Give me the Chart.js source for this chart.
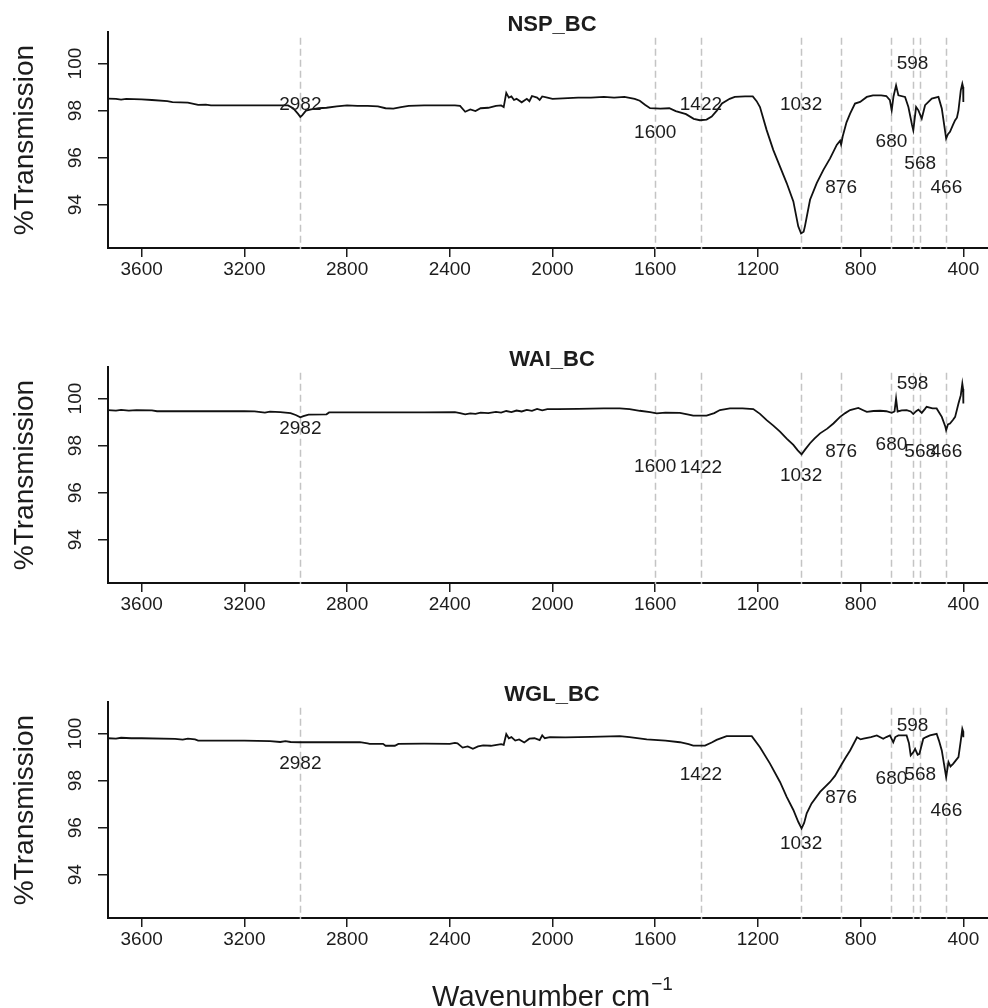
<!DOCTYPE html>
<html>
<head>
<meta charset="utf-8">
<script src="https://cdn.jsdelivr.net/npm/chart.js@4.4.0/dist/chart.umd.min.js"></script>
<style>
  body { margin: 0; background: #fff; width: 988px; height: 1008px; overflow: hidden; position: relative; }
  canvas { position: absolute; left: 0; }
</style>
</head>
<body>
<canvas id="c1" width="988" height="335" style="top:0"></canvas>
<canvas id="c2" width="988" height="335" style="top:335px"></canvas>
<canvas id="c3" width="988" height="338" style="top:670px"></canvas>
<script>
// peak positions (cm-1) and axis ticks
const peakWn = [2982, 1600, 1422, 1032, 876, 680, 598, 568, 466];
const xTicks = [3600, 3200, 2800, 2400, 2000, 1600, 1200, 800, 400];
const yTicks = [94, 96, 98, 100];

// NSP_BC
const nspWn = [3731, 3700, 3680, 3660, 3600, 3560, 3500, 3480, 3420, 3380, 3350, 3330, 3200, 3100, 3030, 3010, 2990, 2982, 2975, 2960,
  2940, 2910, 2880, 2840, 2800, 2760, 2720, 2680, 2650, 2620, 2590, 2560, 2500, 2420, 2380, 2360, 2340, 2320, 2300, 2280,
  2250, 2220, 2200, 2190, 2180, 2170, 2160, 2150, 2140, 2120, 2100, 2090, 2080, 2060, 2050, 2040, 2020, 2000, 1960, 1900,
  1850, 1800, 1760, 1720, 1680, 1660, 1640, 1620, 1580, 1545, 1520, 1480, 1450, 1426, 1400, 1380, 1360, 1340, 1310, 1290,
  1250, 1220, 1205, 1192, 1166, 1140, 1114, 1088, 1062, 1043, 1032, 1022, 1017, 997, 971, 945, 919, 893, 880, 876,
  870, 855, 841, 822, 802, 776, 752, 720, 700, 686, 679, 672, 662, 653, 627, 614, 600, 595, 584, 575,
  562, 549, 523, 497, 484, 467, 460, 452, 440, 432, 425, 419, 410, 404, 401, 400];
const nspT = [98.51, 98.50, 98.47, 98.50, 98.48, 98.45, 98.40, 98.36, 98.34, 98.24, 98.25, 98.22, 98.22, 98.22, 98.22, 98.10, 97.85, 97.73, 97.80, 98.00,
  98.05, 98.10, 98.12, 98.18, 98.22, 98.20, 98.20, 98.18, 98.10, 98.08, 98.15, 98.20, 98.22, 98.22, 98.22, 98.20, 97.95, 98.05, 97.98, 98.10,
  98.12, 98.20, 98.22, 98.15, 98.75, 98.55, 98.60, 98.45, 98.50, 98.35, 98.50, 98.40, 98.62, 98.55, 98.45, 98.60, 98.55, 98.50, 98.52, 98.55,
  98.55, 98.58, 98.55, 98.58, 98.50, 98.42, 98.25, 98.10, 98.08, 98.10, 97.98, 97.85, 97.65, 97.59, 97.62, 97.75, 98.00, 98.30, 98.50, 98.58,
  98.60, 98.60, 98.40, 98.15, 97.17, 96.32, 95.62, 94.92, 94.14, 93.08, 92.78, 92.85, 93.08, 94.21, 94.92, 95.48, 95.97, 96.54, 96.72, 96.55,
  96.90, 97.50, 97.87, 98.30, 98.37, 98.58, 98.65, 98.65, 98.62, 98.44, 98.01, 98.60, 99.07, 98.65, 98.58, 98.15, 97.40, 97.17, 98.15, 98.01,
  97.66, 98.23, 98.51, 98.58, 98.09, 96.82, 97.00, 97.10, 97.40, 97.59, 97.70, 98.01, 98.86, 99.14, 99.00, 98.37];
const nspLabelY = [98.25, 97.06, 98.25, 98.25, 94.71, 96.68, 100.01, 95.72, 94.71];

// WAI_BC
const waiWn = [3731, 3700, 3680, 3650, 3620, 3560, 3540, 3400, 3200, 3160, 3120, 3100, 3060, 3020, 3000, 2982, 2970, 2950, 2880, 2870,
  2700, 2500, 2380, 2360, 2340, 2320, 2300, 2280, 2250, 2220, 2200, 2180, 2160, 2140, 2120, 2100, 2080, 2060, 2040, 2020,
  1980, 1900, 1800, 1738, 1700, 1660, 1620, 1594, 1560, 1504, 1470, 1452, 1400, 1370, 1348, 1309, 1260, 1218, 1192, 1166,
  1140, 1114, 1088, 1062, 1045, 1030, 1015, 997, 980, 958, 930, 906, 880, 860, 841, 809, 790, 776, 750, 724,
  700, 679, 668, 662, 656, 640, 621, 605, 595, 585, 575, 562, 550, 543, 520, 504, 484, 470, 467, 460,
  452, 440, 432, 419, 410, 404, 401, 400];
const waiT = [99.51, 99.49, 99.52, 99.49, 99.51, 99.50, 99.46, 99.46, 99.46, 99.45, 99.40, 99.44, 99.42, 99.38, 99.30, 99.20, 99.25, 99.32, 99.33, 99.41,
  99.41, 99.41, 99.42, 99.38, 99.33, 99.37, 99.35, 99.40, 99.38, 99.43, 99.40, 99.47, 99.42, 99.49, 99.45, 99.52, 99.48, 99.56, 99.50, 99.55,
  99.55, 99.56, 99.58, 99.58, 99.55, 99.48, 99.42, 99.37, 99.40, 99.39, 99.32, 99.27, 99.27, 99.38, 99.51, 99.58, 99.58, 99.55, 99.35, 99.08,
  98.85, 98.59, 98.30, 98.03, 97.80, 97.63, 97.85, 98.10, 98.30, 98.52, 98.72, 98.94, 99.22, 99.38, 99.51, 99.60, 99.50, 99.43, 99.47, 99.48,
  99.46, 99.39, 99.45, 100.00, 99.45, 99.50, 99.51, 99.45, 99.34, 99.45, 99.53, 99.39, 99.55, 99.65, 99.58, 99.58, 99.22, 98.80, 98.66, 98.90,
  98.94, 99.10, 99.22, 99.79, 100.14, 100.63, 100.40, 99.79];
const waiLabelY = [98.70, 97.11, 97.04, 96.73, 97.72, 98.03, 100.63, 97.72, 97.72];

// WGL_BC
const wglWn = [3731, 3700, 3680, 3640, 3600, 3470, 3440, 3420, 3392, 3380, 3300, 3200, 3100, 3060, 3040, 3020, 2984, 2900, 2750, 2720,
  2712, 2660, 2650, 2614, 2600, 2500, 2400, 2380, 2370, 2350, 2330, 2310, 2290, 2270, 2240, 2200, 2190, 2180, 2170, 2160,
  2145, 2130, 2110, 2090, 2070, 2050, 2040, 2030, 2010, 1950, 1850, 1738, 1700, 1633, 1560, 1504, 1470, 1452, 1406, 1380,
  1361, 1322, 1224, 1192, 1153, 1114, 1088, 1062, 1043, 1030, 1020, 1010, 991, 958, 919, 900, 880, 860, 841, 814,
  800, 789, 760, 737, 712, 700, 686, 673, 665, 653, 621, 612, 605, 595, 588, 578, 571, 556, 545, 530,
  504, 495, 484, 467, 458, 450, 439, 430, 419, 410, 404, 401, 400];
const wglT = [99.80, 99.78, 99.82, 99.80, 99.80, 99.77, 99.74, 99.78, 99.75, 99.70, 99.70, 99.70, 99.68, 99.64, 99.68, 99.64, 99.63, 99.63, 99.63, 99.58,
  99.56, 99.56, 99.48, 99.48, 99.56, 99.57, 99.56, 99.60, 99.58, 99.40, 99.45, 99.35, 99.45, 99.50, 99.48, 99.55, 99.52, 99.98, 99.80, 99.85,
  99.70, 99.75, 99.62, 99.78, 99.80, 99.72, 99.92, 99.80, 99.85, 99.84, 99.86, 99.89, 99.85, 99.75, 99.70, 99.63, 99.55, 99.49, 99.49, 99.62,
  99.73, 99.89, 99.89, 99.42, 98.72, 97.94, 97.31, 96.75, 96.25, 95.97, 96.20, 96.61, 97.03, 97.52, 97.94, 98.20, 98.58, 98.95, 99.28, 99.84,
  99.75, 99.78, 99.85, 99.92, 99.78, 99.85, 99.92, 99.63, 99.85, 99.92, 99.92, 99.60, 99.07, 99.20, 99.35, 99.10, 99.14, 99.78, 99.85, 99.92,
  99.99, 99.70, 99.28, 98.15, 98.79, 98.60, 98.72, 98.85, 99.00, 99.70, 100.20, 100.10, 99.84];
const wglLabelY = [98.72, null, 98.26, 95.31, 97.28, 98.09, 100.34, 98.26, 96.72];

const FONT = '"Liberation Sans", Arial, sans-serif';
const INK = '#1c1c1c';

// dashed peak lines, peak labels, titles and rotated y labels
const decor = {
  id: 'decor',
  beforeDatasetsDraw(chart, args, opts) {
    const {ctx, chartArea, scales: {x, y}} = chart;
    ctx.save();
    ctx.strokeStyle = '#c4c4c4';
    ctx.lineWidth = 1.5;
    ctx.setLineDash([7, 4]);
    peakWn.forEach((w, i) => {
      if (opts.labelY[i] == null) return;
      const px = Math.round(x.getPixelForValue(w)) + 0.5;
      ctx.beginPath();
      ctx.moveTo(px, y.getPixelForValue(101.1));
      ctx.lineTo(px, chartArea.bottom + 1);
      ctx.stroke();
    });
    ctx.restore();
  },
  afterDraw(chart, args, opts) {
    const {ctx, chartArea, scales: {x, y}} = chart;
    ctx.save();
    ctx.fillStyle = INK;

    // peak labels
    ctx.font = '19px ' + FONT;
    ctx.textAlign = 'center';
    ctx.textBaseline = 'middle';
    peakWn.forEach((w, i) => {
      if (opts.labelY[i] == null) return;
      ctx.fillText(String(w), x.getPixelForValue(w), y.getPixelForValue(opts.labelY[i]));
    });

    // panel title
    ctx.font = 'bold 22px ' + FONT;
    ctx.fillText(opts.title, (chartArea.left + chartArea.right) / 2 + 4, 25);

    // y tick labels, rotated like R
    ctx.font = '19px ' + FONT;
    y.ticks.forEach(t => {
      ctx.save();
      ctx.translate(76, y.getPixelForValue(t.value));
      ctx.rotate(-Math.PI / 2);
      ctx.fillText(String(t.value), 0, 0);
      ctx.restore();
    });

    // y axis title
    ctx.save();
    ctx.font = '28px ' + FONT;
    ctx.translate(25, (chartArea.top + chartArea.bottom) / 2);
    ctx.rotate(-Math.PI / 2);
    ctx.fillText('%Transmission', 0, 0);
    ctx.restore();

    // x axis title on the last panel
    if (opts.xTitle) {
      ctx.font = '29px ' + FONT;
      const main = 'Wavenumber cm';
      const mw = ctx.measureText(main).width;
      ctx.font = '19px ' + FONT;
      const sw = ctx.measureText('\u22121').width;
      const left = 552 - (mw + sw) / 2;
      ctx.textAlign = 'left';
      ctx.textBaseline = 'alphabetic';
      ctx.font = '29px ' + FONT;
      ctx.fillText(main, left, 336);
      ctx.font = '19px ' + FONT;
      ctx.fillText('\u22121', left + mw + 1, 320);
    }
    ctx.restore();
  }
};

function makeChart(id, title, wn, t, labelY, xTitle) {
  const canvas = document.getElementById(id);
  const pts = wn.map((w, i) => ({x: w, y: t[i]}));
  return new Chart(canvas, {
    type: 'line',
    data: {
      datasets: [{
        data: pts,
        borderColor: '#111',
        borderWidth: 1.8,
        pointRadius: 0,
        tension: 0,
        fill: false
      }]
    },
    options: {
      responsive: false,
      animation: false,
      events: [],
      layout: {padding: {top: 32, right: 0, bottom: 0, left: 0}},
      plugins: {
        legend: {display: false},
        tooltip: {enabled: false},
        decor: {title: title, labelY: labelY, xTitle: xTitle}
      },
      scales: {
        x: {
          type: 'linear',
          reverse: true,
          min: 304,
          max: 3731,
          afterBuildTicks: s => { s.ticks = xTicks.map(v => ({value: v})); },
          afterFit: s => { s.height = canvas.height - 248; },
          grid: {drawOnChartArea: false, drawTicks: true, tickLength: 9, color: INK, lineWidth: 1.5},
          border: {display: true, color: '#111', width: 2},
          ticks: {color: INK, font: {family: FONT, size: 19}, padding: 1, maxRotation: 0, autoSkip: false,
                  callback: v => String(v)}
        },
        y: {
          type: 'linear',
          min: 92.16,
          max: 101.34,
          afterBuildTicks: s => { s.ticks = yTicks.map(v => ({value: v})); },
          afterFit: s => { s.width = 108; },
          grid: {drawOnChartArea: false, drawTicks: true, tickLength: 10, color: INK, lineWidth: 1.5},
          border: {display: true, color: '#111', width: 2},
          ticks: {display: false}
        }
      }
    },
    plugins: [decor]
  });
}

makeChart('c1', 'NSP_BC', nspWn, nspT, nspLabelY, false);
makeChart('c2', 'WAI_BC', waiWn, waiT, waiLabelY, false);
makeChart('c3', 'WGL_BC', wglWn, wglT, wglLabelY, true);
</script>
</body>
</html>
